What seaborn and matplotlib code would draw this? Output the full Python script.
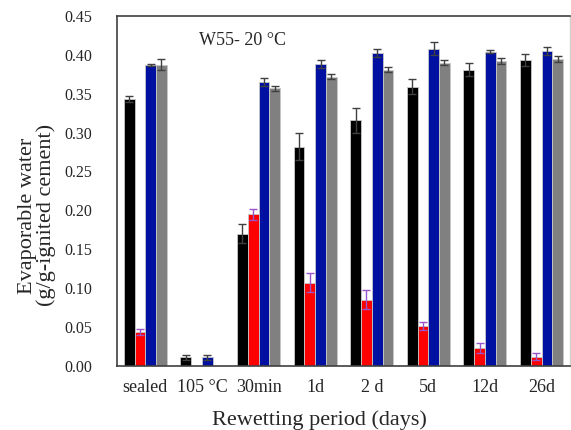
import numpy as np
import pandas as pd
import matplotlib
matplotlib.use("Agg")
import matplotlib.pyplot as plt
import seaborn as sns

categories = ["sealed", "105 °C", "30min", "1d", "2 d", "5d", "12d", "26d"]
series_names = ["S1", "S2", "S3", "S4"]
s1 = [0.343, 0.011, 0.170, 0.282, 0.316, 0.359, 0.381, 0.393]
s1_err = [0.004, 0.003, 0.012, 0.017, 0.016, 0.010, 0.008, 0.008]
s2 = [0.044, 0.0, 0.195, 0.107, 0.085, 0.051, 0.023, 0.012]
s2_err = [0.004, 0.0, 0.007, 0.012, 0.012, 0.005, 0.007, 0.005]
s3 = [0.387, 0.011, 0.365, 0.388, 0.402, 0.408, 0.404, 0.405]
s3_err = [0.001, 0.003, 0.005, 0.005, 0.005, 0.008, 0.002, 0.005]
s4 = [0.387, 0.0, 0.357, 0.372, 0.381, 0.390, 0.392, 0.395]
s4_err = [0.007, 0.0, 0.003, 0.003, 0.003, 0.003, 0.004, 0.004]
yticks = [0.00, 0.05, 0.10, 0.15, 0.20, 0.25, 0.30, 0.35, 0.40, 0.45]

values = [s1, s2, s3, s4]
errors = [s1_err, s2_err, s3_err, s4_err]
colors = ["#000000", "#FF0000", "#0010A0", "#808080"]
err_colors = ["#404040", "#9955CC", "#404040", "#404040"]

rows = []
for name, vals in zip(series_names, values):
    for c, v in zip(categories, vals):
        rows.append({"cat": c, "series": name, "val": v})
df = pd.DataFrame(rows)

sns.set_style("white")
plt.rcParams["font.family"] = ["Liberation Serif", "DejaVu Serif"]

fig = plt.figure(figsize=(5.71, 4.30), dpi=100)
ax = fig.add_axes([0.205, 0.149, 0.793, 0.814])

sns.barplot(data=df, x="cat", y="val", hue="series", order=categories,
            hue_order=series_names, palette=colors, width=0.76,
            saturation=1, edgecolor="#c8c8c8", linewidth=0.6,
            errorbar=None, ax=ax, legend=False)

bar_containers = list(ax.containers)
for k, cont in enumerate(bar_containers):
    for j, p in enumerate(cont.patches):
        h = p.get_height()
        if h <= 0:
            p.set_visible(False)
            continue
        e = errors[k][j]
        if e > 0:
            xc = p.get_x() + p.get_width() / 2
            ax.errorbar(xc, h, yerr=e, fmt="none", ecolor=err_colors[k],
                        elinewidth=1.0, capsize=3, capthick=1.0, zorder=5)

ax.set_ylim(0, 0.45)
ax.set_xlim(-0.5, len(categories) - 0.5)
ax.set_yticks(yticks)
ax.set_yticklabels([f"{t:.2f}" for t in yticks], fontsize=11.5)
ax.tick_params(axis="x", labelsize=13, length=0, pad=9.5)
ax.tick_params(axis="y", length=0, pad=18)

ax.set_xlabel("Rewetting period (days)", fontsize=16, labelpad=2)
ax.set_ylabel("Evaporable water\n(g/g-ignited cement)", fontsize=16,
              linespacing=0.95)
ax.yaxis.set_label_coords(-0.135, 0.43)
ax.xaxis.set_label_coords(0.448, -0.126)

for side in ["left", "bottom", "top"]:
    ax.spines[side].set_color("#404040")
    ax.spines[side].set_linewidth(1.2)
ax.spines["right"].set_color("#d0d0d0")
ax.spines["right"].set_linewidth(1.0)

ax.text(0.276, 0.419 / 0.45, "W55- 20 °C", transform=ax.transAxes,
        fontsize=13, ha="center", va="center")

fig.savefig("out.png", dpi=100)
